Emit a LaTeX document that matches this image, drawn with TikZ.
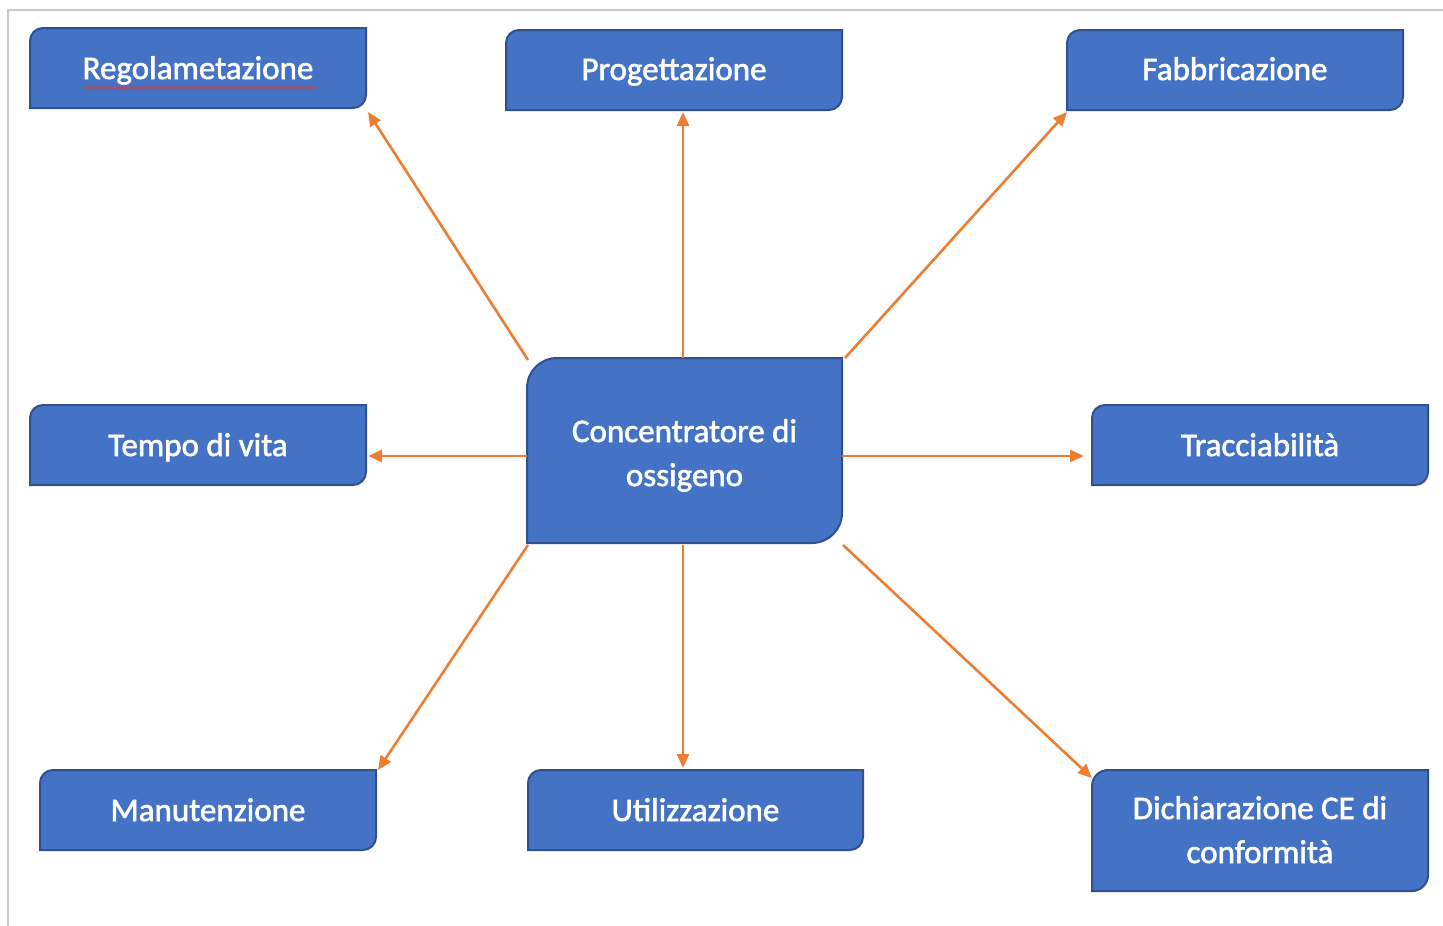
\documentclass[tikz,border=0pt]{standalone}
\usepackage{fontspec}
\setmainfont{Carlito}
\newfontfamily\boxfont{Carlito}[RawFeature={embolden=1.8}]
\usetikzlibrary{arrows.meta,decorations.pathmorphing}
\definecolor{boxfill}{HTML}{4472C4}
\definecolor{boxline}{HTML}{2F528F}
\definecolor{arrowc}{HTML}{ED7D31}
\definecolor{framec}{HTML}{C8C8C8}
\definecolor{spellred}{HTML}{D83B3B}
\tikzset{
  boxshape/.style={draw=boxline, fill=boxfill, line width=2pt},
  boxanchor/.style={inner sep=0pt, outer sep=0pt, rectangle},
  boxtext/.style={text=white, inner sep=0pt, anchor=base, font=\boxfont\fontsize{33}{44}\selectfont},
  arr/.style={draw=arrowc, line width=2.6pt, -{Triangle[length=14pt,width=12pt]}},
  frameline/.style={draw=framec, line width=1.5pt},
}
% #1 name, #2 left, #3 top, #4 right, #5 bottom (pixels, y down), #6 radius, #7 text, #8 first baseline
\newcommand\dbox[8]{%
  \draw[boxshape] (#2,-#5) -- (#2,-#3-#6) arc[start angle=180,end angle=90,radius=#6pt] -- (#4,-#3) -- (#4,-#5+#6) arc[start angle=0,end angle=-90,radius=#6pt] -- cycle;
  \node[boxanchor, minimum width={(#4-#2)*1pt}, minimum height={(#5-#3)*1pt}] (#1) at ({(#2+#4)/2},{-(#3+#5)/2}) {};
  \node[boxtext] (#1-t) at ({(#2+#4)/2},-#8) {\begin{tabular}[t]{@{}c@{}}#7\end{tabular}};
}
\begin{document}
\begin{tikzpicture}[x=1pt,y=1pt]
\useasboundingbox (0,-926) rectangle (1443,0);
\fill[white] (0,-926) rectangle (1443,0);
\draw[frameline] (1443,-10) -- (8,-10) -- (8,-926);

\dbox{reg}{30}{28}{366}{108}{13}{Regolametazione}{79}
\dbox{prog}{506}{30}{842}{110}{13}{Progettazione}{80}
\dbox{fab}{1067}{30}{1403}{110}{13}{Fabbricazione}{80}
\dbox{tempo}{30}{405}{366}{485}{13}{Tempo di vita}{456}
\dbox{c}{527}{358}{842}{543}{30}{Concentratore di\\ossigeno}{442}
\dbox{trac}{1092}{405}{1428}{485}{13}{Tracciabilità}{456}
\dbox{man}{40}{770}{376}{850}{13}{Manutenzione}{821}
\dbox{util}{528}{770}{863}{850}{13}{Utilizzazione}{821}
\dbox{dich}{1092}{770}{1428}{891}{16}{Dichiarazione CE di\\conformità}{819}

\draw[spellred, line width=1pt, decorate, decoration={snake, amplitude=1.2pt, segment length=4pt}]
  ([shift={(-115,-20)}]reg.center) -- ([shift={(118,-20)}]reg.center);

\draw[arr] ([shift={(1,-2)}]c.north west) -- ([shift={(2,-4)}]reg.south east);
\draw[arr, shorten >=2pt] ([xshift=-1.5pt]c.north) -- ([xshift=-1.5pt]c.north |- prog.south);
\draw[arr] ([shift={(3,0)}]c.north east) -- ([shift={(0,-2)}]fab.south west);
\draw[arr, shorten >=2pt] ([yshift=-5.5pt]c.west) -- ([yshift=-5.5pt]c.west -| tempo.east);
\draw[arr, shorten >=8pt] ([yshift=-5.5pt]c.east) -- ([yshift=-5.5pt]c.east -| trac.west);
\draw[arr] ([shift={(1,-2)}]c.south west) -- ([shift={(2,0)}]man.north east);
\draw[arr, shorten >=2pt] ([shift={(-1.5,-2)}]c.south) -- ([xshift=-1.5pt]c.south |- util.north);
\draw[arr] ([shift={(1,-2)}]c.south east) -- ([shift={(0,-8)}]dich.north west);
\end{tikzpicture}
\end{document}
